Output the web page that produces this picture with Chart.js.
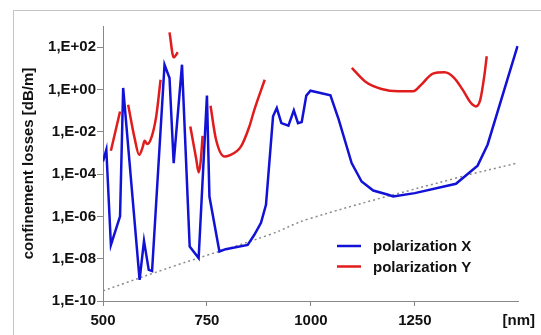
<!DOCTYPE html>
<html>
<head>
<meta charset="utf-8">
<script src="https://cdn.jsdelivr.net/npm/chart.js@4.4.0/dist/chart.umd.min.js"></script>
<style>
  html, body { margin: 0; padding: 0; background: #fff; }
  #wrap { width: 541px; height: 335px; }
</style>
</head>
<body>
<div id="wrap"><canvas id="loss-chart" width="541" height="335"></canvas></div>
<script>
// wavelength [nm] and log10 of the loss [dB/m]
const xPolNm = [500, 508, 519, 541, 548.5, 588, 598.6, 610, 618, 648, 660, 670, 690, 708.5, 730, 750, 756, 780, 795, 848, 864, 880, 892, 909, 918, 929, 946, 959, 969, 978, 989, 999, 1047, 1067, 1098, 1122, 1150, 1186, 1198, 1250, 1349, 1401, 1425, 1497];
const xPolExp = [-3.4, -2.85, -7.35, -6.0, 0.07, -9.0, -7.16, -8.53, -8.58, 1.17, 0.54, -3.48, 1.17, -7.43, -7.97, -0.29, -5.06, -7.66, -7.55, -7.35, -6.87, -6.3, -5.45, -1.27, -0.88, -1.59, -1.71, -0.99, -1.59, -1.54, -0.29, -0.06, -0.28, -1.43, -3.48, -4.35, -4.78, -4.98, -5.06, -4.9, -4.46, -3.6, -2.61, 2.05];

// null = gap in the curve
const yPolNm = [519, 541, 550, 560.5, 576, 587, 596, 600, 606.5, 616, 628, 638.5, 650, 660, 670, 680, 695, 710, 724.5, 730, 735, 739.5, 750, 758.6, 772, 792, 804, 832, 852, 864, 889, 1000, 1098.5, 1130.5, 1170, 1210, 1246, 1265.6, 1293.5, 1321.5, 1345, 1365, 1385, 1397, 1407.5, 1417, 1423];
const yPolExp = [-2.9, -1.04, null, -0.72, -2.3, -3.09, -2.69, -2.42, -2.58, -2.3, -1.27, 0.46, null, 2.7, 1.52, 1.76, null, -1.75, -3.32, -3.92, -3.4, -2.19, null, -0.77, -2.38, -3.17, -3.12, -2.69, -1.75, -0.96, 0.46, null, 1.02, 0.38, 0.02, -0.09, -0.09, 0.23, 0.75, 0.81, 0.54, -0.01, -0.64, -0.8, -0.48, 0.62, 1.57];

// dotted reference line
const limitNm = [500, 672, 900, 996, 1349, 1496];
const limitExp = [-9.52, -8.34, -6.87, -6.11, -4.19, -3.48];

const seriesNames = ['polarization X', 'polarization Y'];
const yTickValues = [1e-10, 1e-8, 1e-6, 1e-4, 1e-2, 1, 1e2];
const xTickLabels = { 500: '500', 750: '750', 1000: '1000', 1250: '1250', 1500: '[nm]' };

const FONT = "'Liberation Sans', Arial, sans-serif";
const BLUE = '#1212d6';
const RED = '#e01c1c';

function toPoints(nm, exps) {
    return nm.map((x, i) => ({ x: x, y: exps[i] === null ? null : Math.pow(10, exps[i]) }));
}

// light grey frame round the whole chart, like the spreadsheet chart area
const framePlugin = {
    id: 'frame',
    beforeDraw(chart) {
        const ctx = chart.ctx;
        ctx.save();
        ctx.strokeStyle = '#c4c4c4';
        ctx.lineWidth = 1;
        ctx.strokeRect(13.5, 10.5, 700, 500);
        ctx.restore();
    }
};

// legend drawn inside the plot, lower right
const innerLegend = {
    id: 'innerLegend',
    afterDraw(chart) {
        const ctx = chart.ctx;
        ctx.save();
        ctx.font = 'bold 15px ' + FONT;
        ctx.textBaseline = 'middle';
        ctx.fillStyle = '#111';
        [0, 1].forEach(i => {
            const ds = chart.data.datasets[i];
            const y = 246 + i * 20.5;
            ctx.strokeStyle = ds.borderColor;
            ctx.lineWidth = 2.5;
            ctx.beginPath();
            ctx.moveTo(337, y);
            ctx.lineTo(361, y);
            ctx.stroke();
            ctx.fillText(ds.label, 373, y + 1);
        });
        ctx.restore();
    }
};

const ctx = document.getElementById('loss-chart').getContext('2d');
const chart = new Chart(ctx, {
    type: 'line',
    data: {
        datasets: [{
            label: seriesNames[0],
            data: toPoints(xPolNm, xPolExp),
            borderColor: BLUE,
            borderWidth: 2.5,
            pointRadius: 0,
            tension: 0,
            fill: false
        }, {
            label: seriesNames[1],
            data: toPoints(yPolNm, yPolExp),
            borderColor: RED,
            borderWidth: 2.5,
            pointRadius: 0,
            cubicInterpolationMode: 'monotone',
            spanGaps: false,
            fill: false
        }, {
            label: 'limit',
            data: toPoints(limitNm, limitExp),
            borderColor: '#8a8a8a',
            borderWidth: 1.5,
            borderDash: [2, 3],
            pointRadius: 0,
            tension: 0.4,
            fill: false
        }]
    },
    options: {
        responsive: false,
        animation: false,
        layout: { padding: { left: 0, right: 21, top: 26, bottom: 0 } },
        plugins: {
            legend: { display: false },
            tooltip: { enabled: false }
        },
        scales: {
            x: {
                type: 'linear',
                min: 500,
                max: 1500,
                afterFit: scale => { scale.height = 34; },
                grid: {
                    drawOnChartArea: false,
                    tickLength: 5,
                    // no tick mark under the unit label
                    color: c => (c.tick && c.tick.value === 1500) ? 'rgba(0,0,0,0)' : '#888'
                },
                border: { color: '#888', width: 1 },
                ticks: {
                    stepSize: 250,
                    padding: 6,
                    maxRotation: 0,
                    color: '#111',
                    font: { family: FONT, size: 15, weight: 'bold' },
                    callback: v => xTickLabels[v] || ''
                }
            },
            y: {
                type: 'logarithmic',
                min: 1e-10,
                max: 1e3,
                afterFit: scale => { scale.width = 103; },
                afterBuildTicks: scale => {
                    scale.ticks = yTickValues.map(v => ({ value: v }));
                },
                grid: { drawOnChartArea: false, tickLength: 6, color: '#888' },
                border: { color: '#888', width: 1 },
                title: {
                    display: true,
                    text: 'confinement losses [dB/m]',
                    color: '#111',
                    padding: { top: 20, bottom: 0 },
                    font: { family: FONT, size: 15, weight: 'bold' }
                },
                ticks: {
                    padding: 1,
                    color: '#111',
                    font: { family: FONT, size: 15, weight: 'bold' },
                    callback: function (value) {
                        const e = Math.round(Math.log10(value));
                        return '1,E' + (e < 0 ? '-' : '+') + String(Math.abs(e)).padStart(2, '0');
                    }
                }
            }
        }
    },
    plugins: [framePlugin, innerLegend]
});
</script>
</body>
</html>
